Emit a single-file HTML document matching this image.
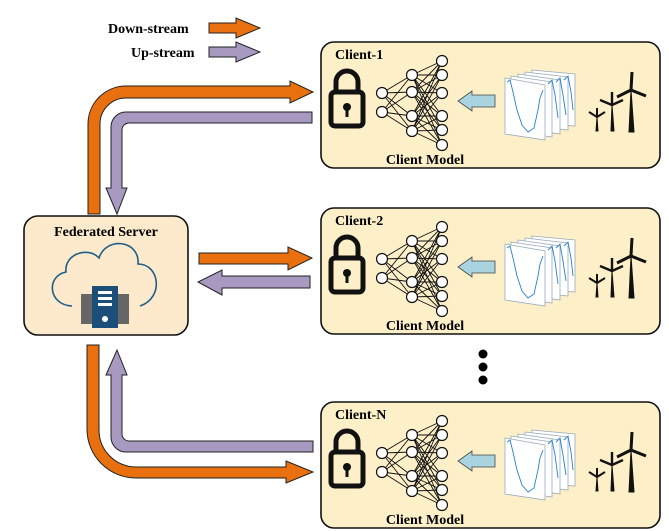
<!DOCTYPE html>
<html><head><style>body{margin:0;background:#fff}svg{display:block}text{font-family:"Liberation Serif",serif;font-weight:bold}</style></head>
<body>
<svg width="669" height="531" viewBox="0 0 669 531" xmlns="http://www.w3.org/2000/svg">
<defs>
<g id="client">
  <rect x="321" y="42" width="339" height="126" rx="13" fill="#fdf0c9" stroke="#111" stroke-width="1.6"/>
  <path d="M336 92 V82 a11 11 0 0 1 22 0 V92" fill="none" stroke="#111" stroke-width="5"/>
  <rect x="331" y="92" width="32" height="34" rx="4" fill="none" stroke="#111" stroke-width="5"/>
  <circle cx="347" cy="107" r="4" fill="#111"/><rect x="345.5" y="108" width="3" height="9" fill="#111"/>
  <g stroke="#111" stroke-width="0.9">
   <path d="M382 93L412 75M382 93L412 92M382 93L412 116M382 93L412 131M382 112L412 75M382 112L412 92M382 112L412 116M382 112L412 131"/>
   <path d="M412 75L442 61M412 75L442 75M412 75L442 93M412 75L442 116M412 75L442 130M412 75L442 145M412 92L442 61M412 92L442 75M412 92L442 93M412 92L442 116M412 92L442 130M412 92L442 145M412 116L442 61M412 116L442 75M412 116L442 93M412 116L442 116M412 116L442 130M412 116L442 145M412 131L442 61M412 131L442 75M412 131L442 93M412 131L442 116M412 131L442 130M412 131L442 145"/>
  </g>
  <g fill="#fff" stroke="#111" stroke-width="1.2">
   <circle cx="382" cy="93" r="5.5"/><circle cx="382" cy="112" r="5.5"/>
   <circle cx="412" cy="75" r="5.5"/><circle cx="412" cy="92" r="5.5"/><circle cx="412" cy="116" r="5.5"/><circle cx="412" cy="131" r="5.5"/>
   <circle cx="442" cy="61" r="5.5"/><circle cx="442" cy="75" r="5.5"/><circle cx="442" cy="93" r="5.5"/><circle cx="442" cy="116" r="5.5"/><circle cx="442" cy="130" r="5.5"/><circle cx="442" cy="145" r="5.5"/>
  </g>
  <text x="425" y="164" font-size="14" text-anchor="middle">Client Model</text>
  <path d="M495 95 H472 V91 L458 101 L472 111 V107 H495 Z" fill="#a8d3df" stroke="#444" stroke-width="0.8"/>
  <g fill="#fff" stroke="#9ab" stroke-width="0.8">
   <path d="M532 70 L575 74 L575 126 L532 122 Z"/>
   <path d="M525 72 L568 77 L568 130 L525 125 Z"/>
   <path d="M518 74 L560 80 L560 134 L518 128 Z"/>
   <path d="M511 76 L552 82 L552 137 L511 131 Z"/>
   <path d="M505 78 L545 85 L545 140 L505 134 Z"/>
  </g>
  <g fill="none" stroke="#2a7fd0" stroke-width="0.9">
   <path d="M507 82 L510 80 L513 92 L517 110 L522 125 L528 132 L534 128 L538 110 L540 98 L543 90"/>
   <path d="M548 84 L552 80 L555 95 L558 118"/>
   <path d="M556 82 L560 78 L563 95 L566 115"/>
   <path d="M564 80 L568 76 L571 92 L573 110"/>
  </g>
  <g stroke="#111" fill="#111">
   <path d="M596 131 L597 117 L598 131 Z"/><path d="M597 117 L589 112 M597 117 L605 112 M597 117 L597 108" stroke-width="2"/>
   <path d="M611 131 L612 105 L614 131 Z"/><path d="M612 105 L600 100 M612 105 L623 100 M612 105 L612 92" stroke-width="2.4"/>
   <path d="M629 132 L631 90 L634 132 Z"/><path d="M631 90 L617 97 M631 90 L646 96 M631 90 L632 72" stroke-width="3"/>
  </g>
</g>
</defs>

<text x="108" y="33" font-size="14">Down-stream</text>
<text x="131" y="57" font-size="14">Up-stream</text>
<path d="M209 23 H236 V18 L260 28 L236 38 V33 H209 Z" fill="#e8700f" stroke="#222" stroke-width="1"/>
<path d="M209 47 H236 V42 L260 52 L236 62 V57 H209 Z" fill="#a899c1" stroke="#222" stroke-width="1"/>

<use href="#client"/>
<text x="335" y="59" font-size="14">Client-1</text>
<use href="#client" transform="translate(0,166)"/>
<text x="335" y="225" font-size="14">Client-2</text>
<use href="#client" transform="translate(0,360)"/>
<text x="335" y="419" font-size="14">Client-N</text>

<circle cx="483" cy="354" r="4.5" fill="#000"/><circle cx="483" cy="367" r="4.5" fill="#000"/><circle cx="483" cy="380" r="4.5" fill="#000"/>

<rect x="24" y="216" width="164" height="119" rx="14" fill="#fde9cb" stroke="#111" stroke-width="1.6"/>
<text x="106" y="236" font-size="14" text-anchor="middle">Federated Server</text>
<path d="M72 306 C48 305 46 276 66 272 C64 254 88 246 99 258 C106 236 140 240 138 264 C160 264 164 298 140 306" fill="none" stroke="#1f5f8b" stroke-width="1.6"/>
<rect x="81" y="294" width="12" height="30" fill="#666"/>
<rect x="117" y="294" width="12" height="30" fill="#666"/>
<rect x="92" y="286" width="26" height="42" fill="#1b4f7a"/>
<g fill="#fff"><rect x="98" y="291" width="14" height="3"/><rect x="98" y="297" width="14" height="3"/><rect x="98" y="303" width="14" height="3"/><circle cx="105" cy="319" r="3"/></g>

<path d="M88 214 V124 A38 38 0 0 1 126 86 H290 V81 L313 92 L290 103 V98 H126 A26 26 0 0 0 100 124 V214 Z" fill="#e8700f" stroke="#222" stroke-width="1"/>
<path d="M312 112 V123 H129 A7 7 0 0 0 122 130 V188 H127 L117 214 L106 188 H111 V127 A15 15 0 0 1 126 112 Z" fill="#a899c1" stroke="#222" stroke-width="1"/>
<path d="M199 253 H288 V247 L312 258 L288 270 V264 H199 Z" fill="#e8700f" stroke="#222" stroke-width="1"/>
<path d="M310 276 V288 H222 V295 L198 282 L222 270 V276 Z" fill="#a899c1" stroke="#222" stroke-width="1"/>
<path d="M87 345 H99 V430 A37 37 0 0 0 136 467 H286 V461 L313 472 L286 483 V478 H136 A49 49 0 0 1 87 429 Z" fill="#e8700f" stroke="#222" stroke-width="1"/>
<path d="M313 441 V452 H126 A15 15 0 0 1 111 437 V375 H106 L117 350 L127 375 H122 V434 A7 7 0 0 0 129 441 Z" fill="#a899c1" stroke="#222" stroke-width="1"/>
</svg>
</body></html>
